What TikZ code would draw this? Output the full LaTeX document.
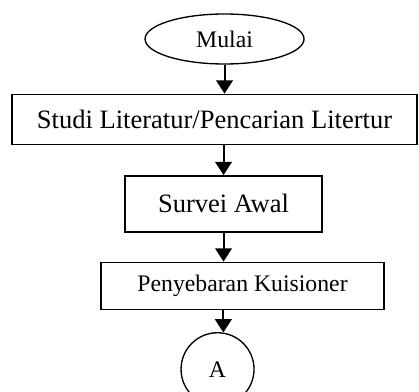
\documentclass[tikz,border=0pt]{standalone}
\usepackage{fontspec}
\setmainfont{Liberation Serif}
\usetikzlibrary{arrows.meta,positioning,shapes.geometric}

\begin{document}
\begin{tikzpicture}
      [ node distance=21.75pt,
        proses/.style={draw, line width=1.1pt, rectangle, inner sep=0pt},
        terminal/.style={draw, line width=1pt, ellipse, inner sep=0pt,
                         minimum width=119.25pt, minimum height=37.5pt},
        konektor/.style={draw, line width=1pt, circle, inner sep=0pt,
                         minimum size=54.75pt},
        alur/.style={line width=1.5pt, -{Triangle[width=12.5pt,length=10pt]}},
        besar/.style={font=\fontsize{19.9}{24}\selectfont},
        kecil/.style={font=\fontsize{17.8}{21}\selectfont}
      ]
      \useasboundingbox (0,0) rectangle (314.25pt,-294pt);
      \node[terminal,kecil]  (mulai)  at (168.4pt,-29.25pt)          {Mulai};
      \node[proses,besar,minimum width=303.75pt,minimum height=37.5pt]
                             (studi)  [below=of mulai, xshift=-7.5pt]  {Studi Literatur/Pencarian Litertur};
      \node[proses,besar,minimum width=147.75pt,minimum height=42pt]
                             (survei) [below=22.5pt of studi, xshift=6.75pt] {Survei Awal};
      \node[proses,kecil,minimum width=212.25pt,minimum height=35.25pt]
                             (sebar)  [below=of survei, xshift=14.25pt] {Penyebaran Kuisioner};
      \node[konektor,kecil]  (konA)   [below=16.5pt of sebar, xshift=-18.75pt] {A};

      \draw[alur] (mulai.south) -- (mulai.south |- studi.north);
      \draw[alur] (survei.north |- studi.south) -- (survei.north);
      \draw[alur] (survei.south) -- (survei.south |- sebar.north);
      \draw[alur] (konA.81 |- sebar.south) -- (konA.81);
    \end{tikzpicture}
\end{document}
